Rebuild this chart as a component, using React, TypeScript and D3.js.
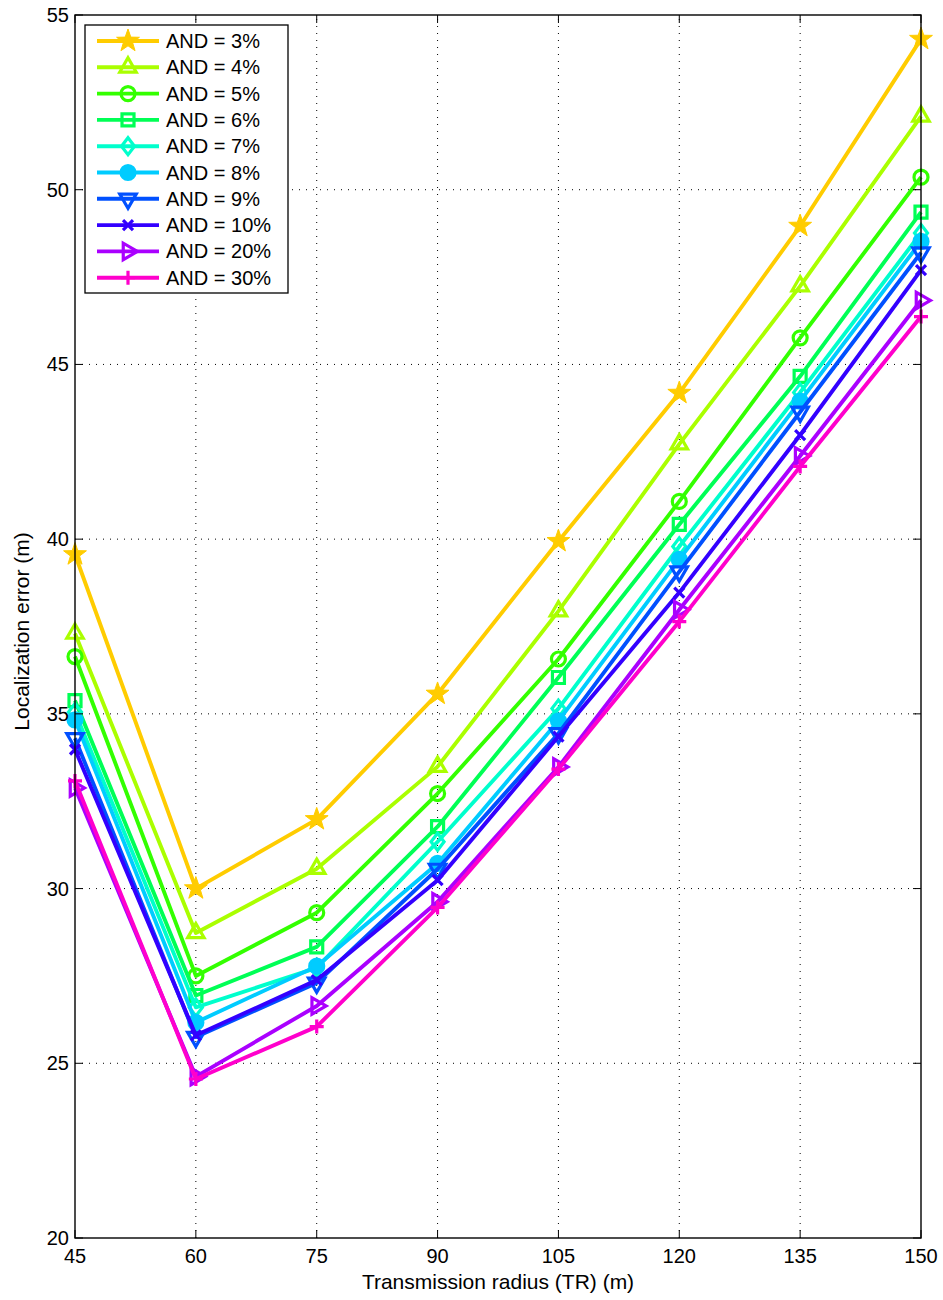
import React from 'react';
import * as d3 from 'd3';

const radii = [45, 60, 75, 90, 105, 120, 135, 150];
const yTickValues = [20, 25, 30, 35, 40, 45, 50, 55];

const and3 = [39.56, 30.0, 31.98, 35.57, 39.94, 44.18, 48.96, 54.31];
const and4 = [37.3, 28.73, 30.57, 33.49, 37.94, 42.72, 47.24, 52.1];
const and5 = [36.64, 27.5, 29.31, 32.72, 36.57, 41.08, 45.76, 50.36];
const and6 = [35.38, 26.94, 28.33, 31.77, 36.04, 40.42, 44.66, 49.36];
const and7 = [35.05, 26.6, 27.73, 31.34, 35.15, 39.79, 44.2, 48.76];
const and8 = [34.83, 26.17, 27.78, 30.72, 34.8, 39.42, 43.95, 48.52];
const and9 = [34.3, 25.75, 27.3, 30.56, 34.44, 39.07, 43.64, 48.2];
const and10 = [33.98, 25.8, 27.38, 30.24, 34.35, 38.47, 42.98, 47.7];
const and20 = [32.88, 24.62, 26.64, 29.62, 33.48, 37.98, 42.38, 46.83];
const and30 = [33.08, 24.55, 26.05, 29.46, 33.42, 37.64, 42.08, 46.37];

const seriesNames = ['AND = 3%', 'AND = 4%', 'AND = 5%', 'AND = 6%', 'AND = 7%',
  'AND = 8%', 'AND = 9%', 'AND = 10%', 'AND = 20%', 'AND = 30%'];
const seriesValues = [and3, and4, and5, and6, and7, and8, and9, and10, and20, and30];
const colors = ['#FFCC00', '#AAFF00', '#33FF00', '#00FF55', '#00FFCC',
  '#00CCFF', '#0050FF', '#3300FF', '#AA00FF', '#FF00CC'];
const markers = ['star', 'tri-up', 'circle', 'square', 'diamond',
  'dot', 'tri-down', 'cross', 'tri-right', 'plus'];

const W = 943, H = 1300;
const margin = { left: 75, right: 22, top: 15, bottom: 62 };
const FONT = '"Liberation Sans", Arial, Helvetica, sans-serif';

function markerPath(kind: string): string {
  const p = d3.path();
  if (kind === 'star') {
    const ro = 12, ri = 4.8;
    for (let i = 0; i < 10; i++) {
      const r = i % 2 === 0 ? ro : ri;
      const a = -Math.PI / 2 + i * Math.PI / 5;
      if (i === 0) p.moveTo(r * Math.cos(a), r * Math.sin(a));
      else p.lineTo(r * Math.cos(a), r * Math.sin(a));
    }
    p.closePath();
  } else if (kind.startsWith('tri')) {
    const r = 9.5;
    const rot = kind === 'tri-up' ? -Math.PI / 2 : kind === 'tri-down' ? Math.PI / 2 : 0;
    for (let i = 0; i < 3; i++) {
      const a = rot + i * 2 * Math.PI / 3;
      if (i === 0) p.moveTo(r * Math.cos(a), r * Math.sin(a));
      else p.lineTo(r * Math.cos(a), r * Math.sin(a));
    }
    p.closePath();
  } else if (kind === 'circle') {
    p.arc(0, 0, 7, 0, Math.PI * 2);
  } else if (kind === 'dot') {
    p.arc(0, 0, 7, 0, Math.PI * 2);
  } else if (kind === 'square') {
    p.rect(-6, -6, 12, 12);
  } else if (kind === 'diamond') {
    p.moveTo(0, -8.5); p.lineTo(6.5, 0); p.lineTo(0, 8.5); p.lineTo(-6.5, 0); p.closePath();
  } else if (kind === 'cross') {
    p.moveTo(-5, -5); p.lineTo(5, 5); p.moveTo(-5, 5); p.lineTo(5, -5);
  } else if (kind === 'plus') {
    p.moveTo(-7, 0); p.lineTo(7, 0); p.moveTo(0, -7); p.lineTo(0, 7);
  }
  return p.toString();
}

function Marker({ kind, color, x, y }: { kind: string; color: string; x: number; y: number }) {
  const filled = kind === 'star' || kind === 'dot';
  return (
    <path
      d={markerPath(kind)}
      transform={`translate(${x},${y})`}
      fill={filled ? color : 'none'}
      stroke={color}
      strokeWidth={kind === 'star' ? 1 : 3.2}
      strokeLinejoin="miter"
    />
  );
}

export default function App() {
  const x = d3.scaleLinear().domain([45, 150]).range([margin.left, W - margin.right]);
  const y = d3.scaleLinear().domain([20, 55]).range([H - margin.bottom, margin.top]);
  const line = d3.line<number>()
    .x((_, i) => x(radii[i]))
    .y(d => y(d));

  const x0 = x.range()[0], x1 = x.range()[1];
  const y0 = y.range()[0], y1 = y.range()[1];
  const tickLen = 8;

  const legX = 85, legY = 25, legW = 203, legRow = 26.3;

  return (
    <svg width={W} height={H} style={{ position: 'absolute', left: 0, top: 0, background: '#fff' }}
      fontFamily={FONT}>
      <rect x={0} y={0} width={W} height={H} fill="#fff" />
      {/* grid */}
      <g stroke="#000" strokeWidth={1} strokeDasharray="1,6">
        {radii.slice(1, -1).map(v => (
          <line key={'gx' + v} x1={x(v)} x2={x(v)} y1={y0} y2={y1} />
        ))}
        {yTickValues.slice(1, -1).map(v => (
          <line key={'gy' + v} x1={x0} x2={x1} y1={y(v)} y2={y(v)} />
        ))}
      </g>
      {/* series */}
      {seriesValues.map((vals, s) => (
        <g key={seriesNames[s]}>
          <path d={line(vals) || ''} fill="none" stroke={colors[s]} strokeWidth={3.9}
            strokeLinejoin="round" />
          {vals.map((v, i) => (
            <Marker key={i} kind={markers[s]} color={colors[s]} x={x(radii[i])} y={y(v)} />
          ))}
        </g>
      ))}
      {/* axes box and ticks */}
      <rect x={x0} y={y1} width={x1 - x0} height={y0 - y1} fill="none" stroke="#000" strokeWidth={1.4} />
      <g stroke="#000" strokeWidth={1}>
        {radii.map(v => (
          <g key={'tx' + v}>
            <line x1={x(v)} x2={x(v)} y1={y0} y2={y0 - tickLen} />
            <line x1={x(v)} x2={x(v)} y1={y1} y2={y1 + tickLen} />
          </g>
        ))}
        {yTickValues.map(v => (
          <g key={'ty' + v}>
            <line x1={x0} x2={x0 + tickLen} y1={y(v)} y2={y(v)} />
            <line x1={x1} x2={x1 - tickLen} y1={y(v)} y2={y(v)} />
          </g>
        ))}
      </g>
      <g fontSize={20} fill="#000">
        {radii.map(v => (
          <text key={'lx' + v} x={x(v)} y={y0 + 25} textAnchor="middle">{v}</text>
        ))}
        {yTickValues.map(v => (
          <text key={'ly' + v} x={x0 - 6} y={y(v) + 7} textAnchor="end">{v}</text>
        ))}
      </g>
      <text x={(x0 + x1) / 2} y={H - 11} textAnchor="middle" fontSize={21}>
        Transmission radius (TR) (m)
      </text>
      <text transform={`translate(29,${(y0 + y1) / 2 + 5}) rotate(-90)`} textAnchor="middle" fontSize={21}>
        Localization error (m)
      </text>
      {/* legend */}
      <rect x={legX} y={legY} width={legW} height={legRow * seriesNames.length + 5}
        fill="#fff" stroke="#000" strokeWidth={1.3} />
      {seriesNames.map((name, s) => {
        const cy = legY + 16 + s * legRow;
        return (
          <g key={'leg' + s}>
            <line x1={legX + 12} x2={legX + 74} y1={cy} y2={cy} stroke={colors[s]} strokeWidth={3.9} />
            <Marker kind={markers[s]} color={colors[s]} x={legX + 43} y={cy} />
            <text x={legX + 81} y={cy + 7} fontSize={20}>{name}</text>
          </g>
        );
      })}
    </svg>
  );
}
